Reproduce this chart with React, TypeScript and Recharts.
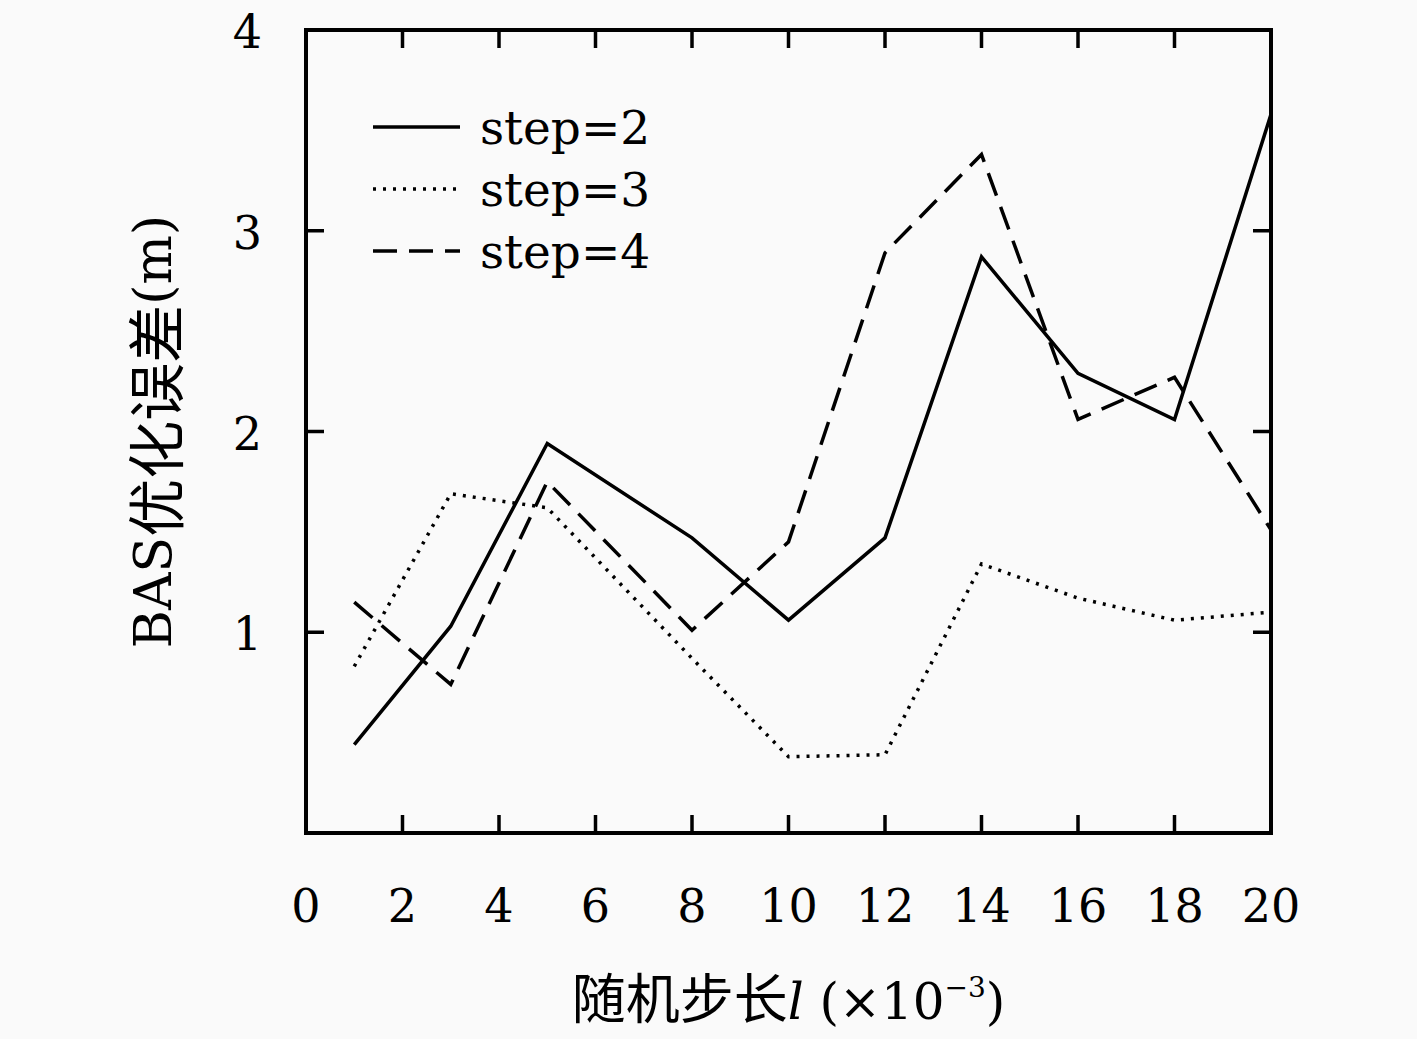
import { LineChart, Line, XAxis, YAxis, ReferenceArea, Legend } from 'recharts';

// ─── Data ─────────────────────────────────────────────────────────────────────

const stepLengths = [1, 3, 5, 8, 10, 12, 14, 16, 18, 20];
const step2 = [0.44, 1.03, 1.94, 1.47, 1.06, 1.47, 2.87, 2.29, 2.06, 3.58];
const step3 = [0.83, 1.69, 1.62, 0.87, 0.38, 0.39, 1.34, 1.17, 1.06, 1.1];
const step4 = [1.15, 0.74, 1.75, 1.01, 1.45, 2.89, 3.38, 2.06, 2.27, 1.51];

const seriesNames = ['step=2', 'step=3', 'step=4'];
const xTicks = [0, 2, 4, 6, 8, 10, 12, 14, 16, 18, 20];
const yTicks = [1, 2, 3, 4];

const data = stepLengths.map((l, i) => ({ l, s2: step2[i], s3: step3[i], s4: step4[i] }));

// ─── Style ────────────────────────────────────────────────────────────────────

const W = 1417;
const H = 1039;
// plot box: left 306, top 30, right 1271, bottom 833
const Y_AXIS_W = 60;
const X_AXIS_H = 60;
const TOP_AXIS_H = 30;
const MARGIN = { top: 30 - TOP_AXIS_H, right: 146, bottom: 206 - X_AXIS_H, left: 306 - Y_AXIS_W };
const PLOT_W = W - MARGIN.left - Y_AXIS_W - MARGIN.right; // right-hand ticks mirror the left ones
const TICK_LEN = 18;
const STROKE = 3.5;
const FONT = '"DejaVu Serif", "Liberation Serif", serif';
const CJK = '"Noto Sans CJK SC", "DejaVu Serif", serif';
const DASHES = [undefined, '3 7', '24 12'];

// ─── Ticks (inward, like the gnuplot frame) ───────────────────────────────────

const isEdgeX = (v: number) => v === xTicks[0] || v === xTicks[xTicks.length - 1];

function BottomTick({ x, y, payload }: any) {
  const v = payload.value;
  return (
    <g>
      {!isEdgeX(v) && <line x1={x} x2={x} y1={y} y2={y - TICK_LEN} stroke="#000" strokeWidth={STROKE} />}
      <text x={x} y={y + 89} textAnchor="middle" fontSize={46} fontFamily={FONT} fill="#000">
        {v}
      </text>
    </g>
  );
}

function TopTick({ x, y, payload }: any) {
  if (isEdgeX(payload.value)) return <g />;
  return <line x1={x} x2={x} y1={y} y2={y + TICK_LEN} stroke="#000" strokeWidth={STROKE} />;
}

function LeftTick({ x, y, payload }: any) {
  const v = payload.value;
  const xr = x + PLOT_W;
  return (
    <g>
      {v !== 4 && <line x1={x} x2={x + TICK_LEN} y1={y} y2={y} stroke="#000" strokeWidth={STROKE} />}
      {v !== 4 && <line x1={xr} x2={xr - TICK_LEN} y1={y} y2={y} stroke="#000" strokeWidth={STROKE} />}
      <text x={x - 44} y={y + 18} textAnchor="end" fontSize={46} fontFamily={FONT} fill="#000">
        {v}
      </text>
    </g>
  );
}

// ─── Axis titles ──────────────────────────────────────────────────────────────

function XTitle({ viewBox }: any) {
  const cx = viewBox.x + viewBox.width / 2;
  return (
    <text x={cx} y={viewBox.y + 186} textAnchor="middle" fontSize={50} fill="#000" fontFamily={FONT}>
      <tspan fontFamily={CJK} fontSize={54}>随机步长</tspan>
      <tspan fontStyle="italic">l</tspan>
      <tspan> (×10</tspan>
      <tspan fontSize={28} dy={-22}>−3</tspan>
      <tspan dy={22}>)</tspan>
    </text>
  );
}

function YTitle({ viewBox }: any) {
  const cy = viewBox.y + viewBox.height / 2;
  const cx = 153;
  return (
    <text
      x={cx}
      y={cy}
      transform={`rotate(-90 ${cx} ${cy})`}
      textAnchor="middle"
      dominantBaseline="central"
      fontSize={52}
      fill="#000"
      fontFamily={FONT}
    >
      BAS<tspan fontFamily={CJK} fontSize={58}>优化误差</tspan>(m)
    </text>
  );
}

// ─── Legend ───────────────────────────────────────────────────────────────────

function LegendBox() {
  return (
    <div style={{ fontFamily: FONT, fontSize: 47, color: '#000' }}>
      {seriesNames.map((n, i) => (
        <div key={n} style={{ display: 'flex', alignItems: 'center', height: 62 }}>
          <svg width={87} height={10}>
            <line x1={0} x2={87} y1={5} y2={5} stroke="#000" strokeWidth={STROKE} strokeDasharray={DASHES[i]} />
          </svg>
          <span style={{ marginLeft: 20, lineHeight: 1 }}>{n}</span>
        </div>
      ))}
    </div>
  );
}

// ─── Chart ────────────────────────────────────────────────────────────────────

export default function App() {
  return (
    <div style={{ position: 'absolute', left: 0, top: 0, width: W, height: H, background: '#fafafa' }}>
      <LineChart width={W} height={H} data={data} margin={MARGIN}>
        <XAxis
          dataKey="l"
          type="number"
          domain={[0, 20]}
          ticks={xTicks}
          height={X_AXIS_H}
          tickSize={0}
          tickMargin={0}
          tickLine={false}
          axisLine={false}
          tick={<BottomTick />}
          interval={0}
          label={{ content: <XTitle /> }}
        />
        <XAxis
          xAxisId="top"
          dataKey="l"
          orientation="top"
          type="number"
          domain={[0, 20]}
          ticks={xTicks}
          height={TOP_AXIS_H}
          tickSize={0}
          tickMargin={0}
          tickLine={false}
          axisLine={false}
          tick={<TopTick />}
          interval={0}
        />
        <YAxis
          type="number"
          domain={[0, 4]}
          ticks={yTicks}
          width={Y_AXIS_W}
          tickSize={0}
          tickMargin={0}
          tickLine={false}
          axisLine={false}
          tick={<LeftTick />}
          interval={0}
          label={{ content: <YTitle /> }}
        />
        <ReferenceArea
          x1={0}
          x2={20}
          y1={0}
          y2={4}
          fill="none"
          fillOpacity={0}
          stroke="#000"
          strokeWidth={4}
          ifOverflow="visible"
        />
        <Line dataKey="s2" name={seriesNames[0]} stroke="#000" strokeWidth={STROKE} dot={false} isAnimationActive={false} />
        <Line dataKey="s3" name={seriesNames[1]} stroke="#000" strokeWidth={STROKE} strokeDasharray={DASHES[1]} dot={false} isAnimationActive={false} />
        <Line dataKey="s4" name={seriesNames[2]} stroke="#000" strokeWidth={STROKE} strokeDasharray={DASHES[2]} dot={false} isAnimationActive={false} />
        <Legend
          layout="vertical"
          align="center"
          verticalAlign="middle"
          content={<LegendBox />}
          wrapperStyle={{ left: 373, top: 96, width: 'auto' }}
        />
      </LineChart>
    </div>
  );
}
